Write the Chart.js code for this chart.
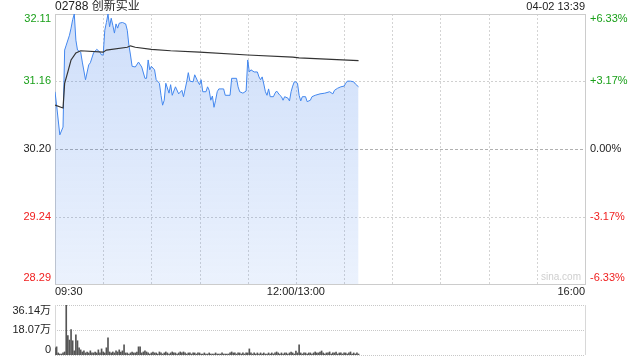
<!DOCTYPE html>
<html><head><meta charset="utf-8">
<script src="https://cdn.jsdelivr.net/npm/chart.js@4.4.0/dist/chart.umd.min.js"></script>
<style>
html,body{margin:0;padding:0;background:#fff;width:640px;height:360px;overflow:hidden}
canvas{position:absolute;left:0;top:0}
</style></head><body>
<canvas id="main" width="640" height="360"></canvas>
<canvas id="vol" width="640" height="360"></canvas>
<script>
// ---- data ----
const titleText = '02788 创新实业';
const stampText = '04-02 13:39';
const prevClose = 30.20;
const priceTicks = [32.11, 31.16, 30.20, 29.24, 28.29];
const pctTicks = ['+6.33%', '+3.17%', '0.00%', '-3.17%', '-6.33%'];
const timeLabels = ['09:30', '12:00/13:00', '16:00'];
const timeLabelMinutes = [0, 150, 330];
const gridMinutes = [30, 60, 90, 120, 150, 180, 210, 240, 270, 300];
const volTicks = [36.14, 18.07, 0];
const volTickLabels = ['36.14万', '18.07万', '0'];

const priceMinutes = [0,1,3,5,6,7,9,10,11,12,13,14,16,17,19,21,22,24,26,28,29,30,31,32,33,34,35,36,37,38,39,40,42,44,45,46,47,48,50,52,54,56,57,58,59,60,62,63,65,66,67,68,69,71,72,73,75,77,79,80,82,83,84,86,87,89,90,91,92,94,95,96,97,98,99,100,101,102,105,106,109,110,113,114,115,117,119,120,121,122,124,126,127,128,129,130,131,132,133,134,136,137,138,140,141,142,143,145,146,147,148,149,150,151,152,153,154,156,157,159,160,162,165,168,171,173,174,176,178,180,181,182,184,186,187,189];
const prices = [31.01,30.82,30.40,30.51,31.60,31.67,31.81,31.91,32.03,32.11,31.74,31.60,31.57,31.43,31.18,31.39,31.42,31.56,31.61,31.57,31.53,31.53,31.88,31.99,32.11,31.93,32.05,31.95,31.84,31.97,31.91,31.98,31.99,31.97,31.88,31.67,31.53,31.37,31.36,31.43,31.36,31.20,31.20,31.46,31.32,31.37,31.32,31.18,31.13,30.96,30.82,30.89,31.13,30.99,31.11,30.96,31.08,30.98,31.03,30.94,31.15,31.28,31.16,31.15,31.25,31.15,31.11,31.18,31.01,31.01,31.08,31.03,30.89,30.95,30.79,30.89,31.01,31.05,31.05,30.96,30.96,31.20,31.20,31.08,31.01,30.99,31.02,31.46,31.29,31.32,31.29,31.29,31.22,31.18,31.22,31.12,31.01,30.96,31.05,30.94,30.94,30.99,31.02,30.96,30.94,30.89,30.94,30.92,30.88,31.01,31.09,31.15,31.15,31.13,30.96,30.88,30.94,30.94,30.87,30.89,30.94,30.96,30.98,30.99,31.01,30.98,31.03,31.06,31.08,31.09,31.13,31.16,31.16,31.15,31.12,31.08];

const avgMinutes = [0,5,6,8,10,13,16,30,32,45,47,50,60,72,90,120,148,152,189];
const avgPrices = [30.82,30.78,31.13,31.29,31.46,31.56,31.59,31.57,31.60,31.64,31.66,31.64,31.61,31.59,31.57,31.53,31.50,31.49,31.45];

// volume per minute from 09:30, in 万 shares
const volumes = [5.2,5.9,1.5,0.7,0.7,1.5,2.2,36.14,14.0,10.8,
18.4,10.3,3.0,14.5,10.3,5.2,3.7,2.2,3.0,1.5,
2.2,1.5,3.0,1.5,1.5,2.2,1.5,3.7,1.5,4.4,
2.2,1.5,5.2,12.5,2.2,1.5,2.2,1.5,3.0,2.2,
3.7,2.2,3.0,7.4,1.5,1.5,0.7,1.5,2.2,1.5,
1.5,2.2,5.9,5.9,1.5,2.2,3.0,2.2,1.5,0.7,
1.5,2.2,1.5,1.5,0.7,2.2,1.5,0.7,1.5,2.2,
1.5,0.7,1.5,2.2,1.5,1.5,0.7,1.5,2.2,1.5,
2.2,1.5,0.7,1.5,1.5,0.7,1.5,1.5,0.7,1.5,
1.5,0.7,0.7,1.5,0.7,0.7,1.5,0.7,0.7,0.7,
1.5,0.7,0.7,0.7,1.5,0.7,0.7,0.7,0.7,1.5,
2.2,1.5,1.5,0.7,1.5,1.5,0.7,1.5,0.7,1.5,
1.5,4.4,1.5,0.7,1.5,0.7,1.5,0.7,1.5,0.7,
1.5,0.7,0.7,1.5,0.7,1.5,0.7,1.5,2.2,1.5,
0.7,1.5,0.7,1.5,1.5,0.7,1.5,2.2,1.5,0.7,
2.9,1.5,7.4,1.5,0.7,1.5,1.5,0.7,1.5,1.5,
0.7,1.5,2.2,1.5,1.5,2.2,2.9,1.5,0.7,1.5,
1.5,2.2,0.7,1.5,1.5,2.2,0.7,1.5,1.5,0.7,
1.5,1.5,0.7,1.5,2.2,0.7,1.5,0.7,1.5,0.7];

// ---- styling ----
const FONT = '"Liberation Sans", Arial, "Noto Sans CJK SC", sans-serif';
const GREEN = '#1aa01a', RED = '#f02020', DARK = '#222';
function tickColor(v){ return v > prevClose + 1e-6 ? GREEN : (v < prevClose - 1e-6 ? RED : DARK); }

const mainPlugin = {
  id: 'mainDeco',
  beforeDatasetsDraw(chart){
    const c = chart.ctx, a = chart.chartArea, xs = chart.scales.x, ys = chart.scales.y;
    c.save();
    c.lineWidth = 1;
    c.strokeStyle = '#d4d4d4';
    c.setLineDash([2,2]);
    gridMinutes.forEach(m => {
      const x = Math.round(xs.getPixelForValue(m)) + 0.5;
      c.beginPath(); c.moveTo(x, a.top); c.lineTo(x, a.bottom); c.stroke();
    });
    priceTicks.forEach(v => {
      if (v === priceTicks[0] || v === priceTicks[priceTicks.length-1]) return;
      const y = Math.round(ys.getPixelForValue(v)) + 0.5;
      if (Math.abs(v - prevClose) < 1e-6){ c.strokeStyle = '#b0b0b0'; c.setLineDash([3,2]); }
      else { c.strokeStyle = '#d0d0d0'; c.setLineDash([2,2]); }
      c.beginPath(); c.moveTo(a.left, y); c.lineTo(a.right, y); c.stroke();
    });
    c.setLineDash([]);
    c.strokeStyle = '#cccccc';
    c.strokeRect(Math.round(a.left)+0.5, Math.round(a.top)+0.5, Math.round(a.right-a.left), Math.round(a.bottom-a.top));
    c.restore();
  },
  afterDatasetsDraw(chart){
    const c = chart.ctx, a = chart.chartArea, xs = chart.scales.x, ys = chart.scales.y;
    c.save();
    c.font = '11px ' + FONT;
    c.textBaseline = 'middle';
    priceTicks.forEach((v, i) => {
      let y = ys.getPixelForValue(v);
      if (i === 0) y += 5;
      if (i === priceTicks.length - 1) y -= 6;
      c.fillStyle = tickColor(v);
      c.textAlign = 'right';
      c.fillText(v.toFixed(2), a.left - 4, y);
      c.textAlign = 'left';
      c.fillText(pctTicks[i], a.right + 5, y);
    });
    c.fillStyle = DARK;
    timeLabels.forEach((t, i) => {
      const x = xs.getPixelForValue(timeLabelMinutes[i]);
      c.textAlign = i === 0 ? 'left' : (i === timeLabels.length - 1 ? 'right' : 'center');
      c.fillText(t, x, a.bottom + 8);
    });
    c.font = '12px ' + FONT;
    c.textAlign = 'left';
    c.fillText(titleText, a.left, a.top - 7);
    c.font = '11px ' + FONT;
    c.textAlign = 'right';
    c.fillText(stampText, a.right, a.top - 7);
    c.fillStyle = '#cfcfcf';
    c.font = '10px ' + FONT;
    c.fillText('sina.com', a.right - 4, a.bottom - 7);
    c.restore();
  }
};

const volPlugin = {
  id: 'volDeco',
  beforeDatasetsDraw(chart){
    const c = chart.ctx, a = chart.chartArea, ys = chart.scales.y;
    c.save();
    c.lineWidth = 1;
    c.strokeStyle = '#c8c8c8';
    c.setLineDash([1,1]);
    volTicks.forEach(v => {
      const y = Math.round(ys.getPixelForValue(v)) + 0.5;
      c.beginPath(); c.moveTo(a.left, y); c.lineTo(a.right, y); c.stroke();
    });
    c.setLineDash([]);
    c.strokeStyle = '#d8d8d8';
    [a.left, a.right].forEach(x => {
      const px = Math.round(x) + 0.5;
      c.beginPath(); c.moveTo(px, a.top); c.lineTo(px, a.bottom); c.stroke();
    });
    c.restore();
  },
  afterDatasetsDraw(chart){
    const c = chart.ctx, a = chart.chartArea, ys = chart.scales.y;
    c.save();
    c.font = '11px ' + FONT;
    c.textBaseline = 'middle';
    c.textAlign = 'right';
    c.fillStyle = DARK;
    volTicks.forEach((v, i) => {
      let y = ys.getPixelForValue(v);
      if (i === 0) y += 6;
      if (i === volTicks.length - 1) y -= 5;
      c.fillText(volTickLabels[i], a.left - 4, y);
    });
    c.restore();
  }
};

const commonOpts = {
  responsive: false,
  animation: false,
  devicePixelRatio: 1,
  plugins: { legend: { display: false }, tooltip: { enabled: false } },
  events: []
};

new Chart(document.getElementById('main'), {
  type: 'line',
  data: {
    datasets: [
      {
        data: priceMinutes.map((m, i) => ({ x: m, y: prices[i] })),
        borderColor: '#4387ee',
        borderWidth: 1,
        pointRadius: 0,
        tension: 0,
        fill: 'start',
        backgroundColor: (ctx) => {
          const a = ctx.chart.chartArea;
          if (!a) return 'rgba(70,130,230,0.15)';
          const g = ctx.chart.ctx.createLinearGradient(0, a.top, 0, a.bottom);
          g.addColorStop(0, 'rgba(60,125,235,0.25)');
          g.addColorStop(1, 'rgba(60,125,235,0.10)');
          return g;
        },
        order: 2
      },
      {
        data: avgMinutes.map((m, i) => ({ x: m, y: avgPrices[i] })),
        borderColor: '#333333',
        borderWidth: 1.2,
        pointRadius: 0,
        tension: 0,
        fill: false,
        order: 1
      }
    ]
  },
  options: Object.assign({}, commonOpts, {
    layout: { padding: { left: 55, right: 55, top: 14, bottom: 76 } },
    scales: {
      x: { type: 'linear', min: 0, max: 330, display: false },
      y: { type: 'linear', min: priceTicks[priceTicks.length-1], max: priceTicks[0], display: false }
    }
  }),
  plugins: [mainPlugin]
});

new Chart(document.getElementById('vol'), {
  type: 'bar',
  data: {
    datasets: [{
      data: volumes.map((v, i) => ({ x: i, y: v })),
      backgroundColor: '#555555',
      barThickness: 1,
      borderWidth: 0
    }]
  },
  options: Object.assign({}, commonOpts, {
    layout: { padding: { left: 55, right: 55, top: 305, bottom: 5 } },
    scales: {
      x: { type: 'linear', min: 0, max: 330, display: false, offset: false },
      y: { type: 'linear', min: 0, max: volTicks[0], display: false }
    }
  }),
  plugins: [volPlugin]
});
</script>
</body></html>
